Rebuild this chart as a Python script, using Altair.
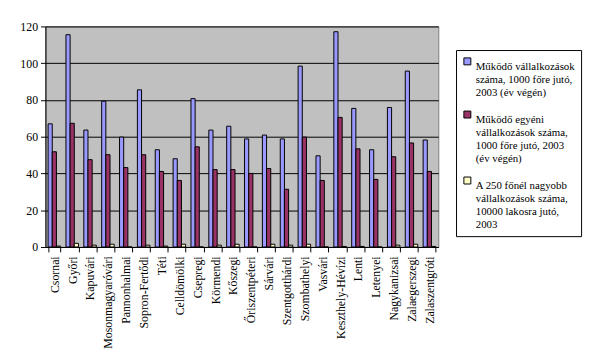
import altair as alt
import pandas as pd

categories = ["Csornai", "Győri", "Kapuvári", "Mosonmagyaróvári", "Pannonhalmai",
              "Sopron-Fertődi", "Téti", "Celldömölki", "Csepregi", "Körmendi",
              "Kőszegi", "Őriszentpéteri", "Sárvári", "Szentgotthárdi", "Szombathelyi",
              "Vasvári", "Keszthely-Hévízi", "Lenti", "Letenyei", "Nagykanizsai",
              "Zalaegerszegi", "Zalaszentgróti"]

series_names = [
    "Működő vállalkozások|száma, 1000 főre jutó,|2003 (év végén)",
    "Működő egyéni|vállalkozások száma,|1000 főre jutó, 2003|(év végén)",
    "A 250 főnél nagyobb|vállalkozások száma,|10000 lakosra jutó,|2003",
]

s1 = [67, 115.5, 63.6, 79.3, 59.8, 85.5, 52.9, 48, 80.7, 63.6, 65.7,
      58.8, 60.9, 58.8, 98.4, 49.6, 117.1, 75.4, 52.9, 75.9, 95.7, 58.2]
s2 = [51.8, 67.3, 47.5, 50.2, 43.2, 50.2, 41.1, 36.2, 54.5, 42.1, 42.1,
      40.0, 42.7, 31.4, 59.8, 36.2, 70.5, 53.4, 36.8, 49.1, 56.6, 41.1]
s3 = [0.5, 2, 1, 1.5, 0, 1, 0.5, 1.5, 0, 1, 1.5,
      0, 1.5, 1, 1.5, 0, 0.3, 0.3, 0, 1, 1.5, 0.3]

colors = ["#9999FF", "#993366", "#FFFFCC"]

rows = []
for i, c in enumerate(categories):
    for name, vals in zip(series_names, [s1, s2, s3]):
        rows.append({"terület": c, "sorozat": name, "érték": vals[i]})
df = pd.DataFrame(rows)

FONT = "Liberation Serif, Times New Roman, serif"

chart = alt.Chart(df).mark_bar(stroke="black", strokeWidth=1).encode(
    x=alt.X("terület:N", sort=categories, title=None,
            scale=alt.Scale(paddingInner=0.3, paddingOuter=0.15),
            axis=alt.Axis(labelAngle=-90, tickBand="extent", domainColor="black",
                          tickColor="black", labelFont=FONT, labelFontSize=12,
                          labelColor="black", tickSize=5, labelPadding=4, grid=False)),
    xOffset=alt.XOffset("sorozat:N", sort=series_names,
                        scale=alt.Scale(paddingInner=0, paddingOuter=0)),
    y=alt.Y("érték:Q", title=None,
            scale=alt.Scale(domain=[0, 120], nice=False),
            axis=alt.Axis(values=[0, 20, 40, 60, 80, 100, 120], domainColor="black",
                          tickColor="black", gridColor="black", gridOpacity=1,
                          labelFont=FONT, labelFontSize=12, labelColor="black",
                          tickSize=5, labelPadding=3)),
    color=alt.Color("sorozat:N", sort=series_names,
                    scale=alt.Scale(domain=series_names, range=colors),
                    legend=alt.Legend(title=None, orient="none", legendX=417, legendY=24,
                                      labelExpr="split(datum.label, '|')",
                                      labelFont=FONT, labelFontSize=11, labelColor="black",
                                      labelLimit=0, symbolType="square", symbolSize=50,
                                      symbolStrokeColor="black", symbolStrokeWidth=1,
                                      fillColor="white", strokeColor="black",
                                      padding=6, rowPadding=10, labelBaseline="top",
                                      labelOffset=3)),
).properties(
    width=399, height=224, background="white",
    padding={"left": 12, "top": 10, "right": 5, "bottom": 5}
).configure_view(
    fill="#C0C0C0", stroke="#808080", strokeWidth=1
)

chart.save("out.html", embed_options={"renderer": "svg", "actions": False})
